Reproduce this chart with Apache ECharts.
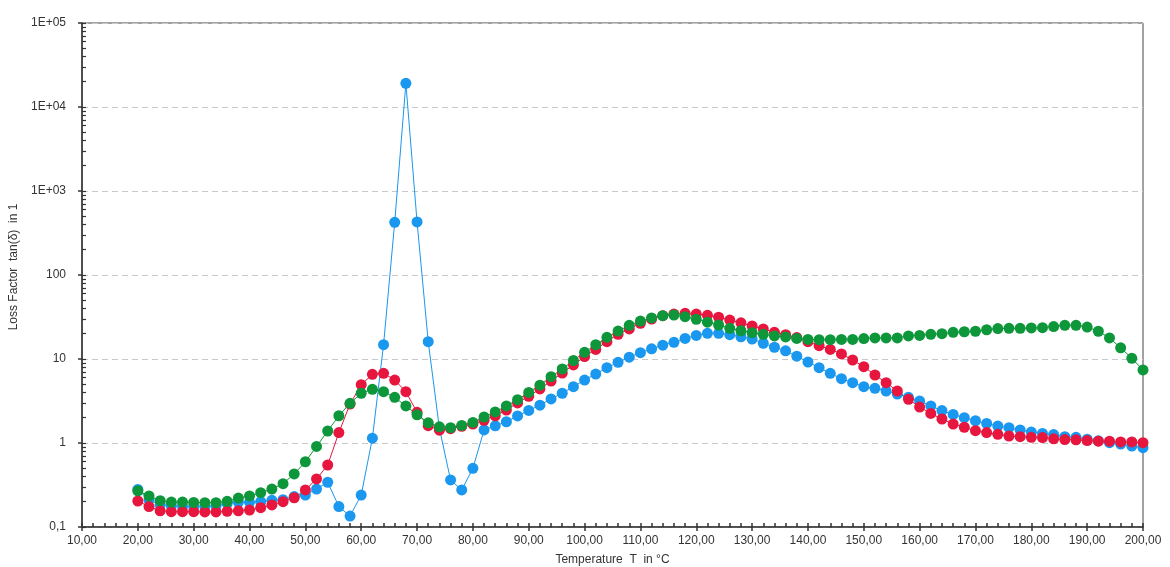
<!DOCTYPE html>
<html>
<head>
<meta charset="utf-8">
<script src="https://cdn.jsdelivr.net/npm/echarts@6/dist/echarts.min.js"></script>
<style>
  html, body { margin: 0; padding: 0; background: #ffffff; }
  #chart { width: 1170px; height: 567px; }
</style>
</head>
<body>
<div id="chart"></div>
<script>
// Measurement temperatures (°C)
const temperatures = [
  20, 22, 24, 26, 28, 30, 32, 34, 36, 38,
  40, 42, 44, 46, 48, 50, 52, 54, 56, 58,
  60, 62, 64, 66, 68, 70, 72, 74, 76, 78,
  80, 82, 84, 86, 88, 90, 92, 94, 96, 98,
  100, 102, 104, 106, 108, 110, 112, 114, 116, 118,
  120, 122, 124, 126, 128, 130, 132, 134, 136, 138,
  140, 142, 144, 146, 148, 150, 152, 154, 156, 158,
  160, 162, 164, 166, 168, 170, 172, 174, 176, 178,
  180, 182, 184, 186, 188, 190, 192, 194, 196, 198,
  200
];

// Loss factor tan(δ) per sample
const lossBlue = [
  0.28, 0.21, 0.185, 0.178, 0.176, 0.175, 0.175, 0.178, 0.191, 0.197,
  0.197, 0.200, 0.208, 0.211, 0.230, 0.240, 0.283, 0.341, 0.175, 0.135,
  0.240, 1.14, 14.8, 424, 19150, 428, 16.1, 1.5, 0.363, 0.276,
  0.50, 1.43, 1.60, 1.79, 2.10, 2.44, 2.82, 3.35, 3.91, 4.68,
  5.62, 6.62, 7.88, 9.12, 10.5, 11.9, 13.2, 14.6, 15.8, 17.6,
  19.1, 20.2, 20.2, 19.5, 18.4, 17.3, 15.4, 13.8, 12.5, 10.8,
  9.2, 7.88, 6.76, 5.83, 5.22, 4.68, 4.48, 4.16, 3.83, 3.50,
  3.16, 2.76, 2.43, 2.19, 2.00, 1.84, 1.71, 1.59, 1.52, 1.43,
  1.35, 1.30, 1.26, 1.19, 1.17, 1.11, 1.06, 1.01, 0.97, 0.92,
  0.88
];

const lossRed = [
  0.204, 0.175, 0.156, 0.152, 0.152, 0.152, 0.151, 0.151, 0.154, 0.156,
  0.159, 0.170, 0.183, 0.200, 0.223, 0.276, 0.373, 0.547, 1.33, 2.91,
  4.94, 6.58, 6.76, 5.62, 4.08, 2.32, 1.61, 1.42, 1.48, 1.58,
  1.68, 1.86, 2.11, 2.47, 3.0, 3.6, 4.4, 5.47, 6.81, 8.49,
  10.7, 13.0, 16.1, 19.7, 22.8, 26.6, 29.9, 32.8, 34.3, 35.0,
  34.3, 33.1, 31.4, 29.1, 27.0, 24.7, 22.8, 20.8, 19.5, 18.0,
  16.1, 14.4, 13.0, 11.5, 9.73, 8.1, 6.45, 5.22, 4.16, 3.31,
  2.68, 2.25, 1.93, 1.68, 1.54, 1.40, 1.33, 1.27, 1.21, 1.19,
  1.17, 1.16, 1.12, 1.10, 1.09, 1.07, 1.05, 1.05, 1.03, 1.03,
  1.01
];

const lossGreen = [
  0.27, 0.234, 0.206, 0.198, 0.198, 0.196, 0.195, 0.195, 0.202, 0.221,
  0.234, 0.256, 0.283, 0.328, 0.428, 0.598, 0.91, 1.39, 2.11, 2.97,
  3.91, 4.36, 4.08, 3.5, 2.76, 2.17, 1.74, 1.56, 1.52, 1.62,
  1.76, 2.04, 2.34, 2.76, 3.28, 4.0, 4.88, 6.15, 7.6, 9.6,
  12.0, 14.8, 18.1, 21.5, 25.2, 28.3, 30.8, 32.8, 33.4, 31.9,
  29.7, 27.4, 25.4, 23.2, 21.7, 20.6, 19.7, 18.8, 18.3, 17.6,
  17.1, 17.0, 17.0, 17.1, 17.1, 17.5, 17.8, 17.8, 17.8, 18.8,
  19.1, 19.7, 20.0, 20.8, 21.1, 21.4, 22.3, 23.0, 23.2, 23.2,
  23.4, 23.6, 24.3, 25.2, 25.2, 24.0, 21.4, 17.8, 13.6, 10.2,
  7.4
];

// Y axis decade labels
const yDecades = [0.1, 1, 10, 100, 1000, 10000, 100000];
const yDecadeLabels = ['0,1', '1', '10', '100', '1E+03', '1E+04', '1E+05'];

// Tick marks inside each decade (1..9 × decade)
const yInnerTicks = [];
yDecades.forEach(function (d, k) {
  if (k === yDecades.length - 1) { yInnerTicks.push(d); return; }
  for (let m = 1; m <= 9; m++) yInnerTicks.push(+(d * m).toPrecision(3));
});

const FONT = '"Liberation Sans", Arial, sans-serif';
const AXIS_COLOR = '#333333';

function pairs(values) {
  return temperatures.map(function (t, i) { return [t, values[i]]; });
}

function lineSeries(name, values, color) {
  return {
    name: name,
    type: 'line',
    data: pairs(values),
    symbol: 'circle',
    symbolSize: 11,
    showSymbol: true,
    lineStyle: { color: color, width: 1 },
    itemStyle: { color: color },
    emphasis: { disabled: true },
    animation: false
  };
}

const chart = echarts.init(document.getElementById('chart'), null, { renderer: 'canvas' });

chart.setOption({
  backgroundColor: '#ffffff',
  animation: false,
  grid: {
    left: 82, right: 27, top: 23, bottom: 40,
    outerBoundsMode: 'none',
    containLabel: false,
    show: true, borderColor: '#444444', borderWidth: 1, backgroundColor: 'transparent'
  },
  xAxis: [
    {
      type: 'value',
      position: 'bottom',
      min: 10, max: 200, interval: 10,
      name: 'Temperature  T  in °C',
      nameLocation: 'middle',
      nameGap: 27,
      nameTextStyle: { fontFamily: FONT, fontSize: 12, color: AXIS_COLOR },
      axisLine: { show: true, lineStyle: { color: AXIS_COLOR, width: 1.5 } },
      axisTick: { show: true, inside: false, length: 4, lineStyle: { color: AXIS_COLOR, width: 1.5 } },
      axisLabel: {
        fontFamily: FONT, fontSize: 12, color: AXIS_COLOR, margin: 8,
        formatter: function (v) { return v.toFixed(2).replace('.', ','); }
      },
      splitLine: { show: false }
    },
    {
      type: 'value',
      position: 'bottom',
      offset: 0,
      min: 10, max: 200, interval: 2,
      axisLine: { show: false },
      axisTick: { show: true, inside: true, length: 4, lineStyle: { color: AXIS_COLOR, width: 1.5 } },
      axisLabel: { show: false },
      splitLine: { show: false }
    }
  ],
  yAxis: [
    {
      type: 'log',
      logBase: 10,
      position: 'left',
      min: 0.1, max: 100000,
      name: 'Loss Factor  tan(δ)  in 1',
      nameLocation: 'middle',
      nameGap: 60,
      nameTextStyle: { fontFamily: FONT, fontSize: 12, color: AXIS_COLOR, padding: [0, 0, 0, 16] },
      axisLine: { show: true, lineStyle: { color: AXIS_COLOR, width: 1.5 } },
      axisTick: { show: true, inside: false, length: 4, lineStyle: { color: AXIS_COLOR, width: 1.5 } },
      axisLabel: {
        fontFamily: FONT, fontSize: 12, color: AXIS_COLOR, margin: 16,
        formatter: function (v) {
          for (let k = 0; k < yDecades.length; k++) {
            if (Math.abs(Math.log10(v) - Math.log10(yDecades[k])) < 1e-6) return yDecadeLabels[k];
          }
          return '';
        }
      },
      splitLine: { show: true, lineStyle: { color: '#c8c8c8', type: [6, 4], width: 1 } }
    },
    {
      type: 'log',
      logBase: 10,
      position: 'left',
      offset: 0,
      min: 0.1, max: 100000,
      axisLine: { show: false },
      axisTick: {
        show: true, inside: true, length: 4,
        customValues: yInnerTicks,
        lineStyle: { color: AXIS_COLOR, width: 1.2 }
      },
      axisLabel: { show: false },
      splitLine: { show: false }
    }
  ],
  series: [
    lineSeries('Sample A', lossBlue, '#1a97ee'),
    lineSeries('Sample B', lossRed, '#e6163f'),
    lineSeries('Sample C', lossGreen, '#0d963a')
  ]
});
</script>
</body>
</html>
